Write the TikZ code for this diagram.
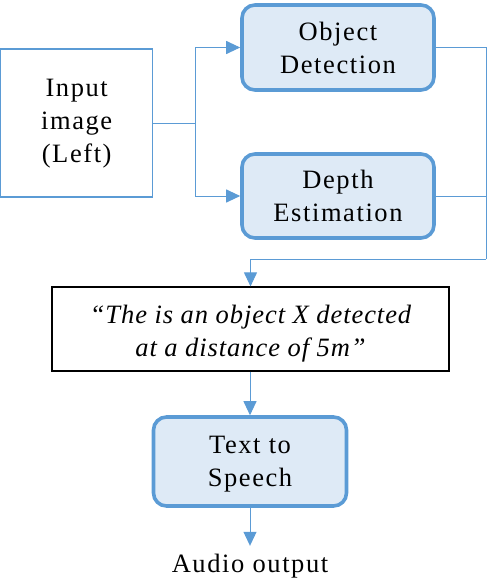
\documentclass[tikz,border=0pt]{standalone}
\usepackage{fontspec}
\setmainfont{Liberation Serif}[LetterSpace=6, ItalicFeatures={LetterSpace=3.5}]
\usetikzlibrary{arrows.meta}
\definecolor{bl}{HTML}{5B9BD5}
\definecolor{lb}{HTML}{DEEAF6}
\tikzset{
  x=1pt,y=1pt,
  txt/.style={font=\fontsize{26.5}{33}\selectfont, align=center},
  plainbox/.style={txt, draw=bl, line width=1.3pt, inner sep=0pt},
  procbox/.style={txt, draw=bl, fill=lb, line width=3.6pt, rounded corners=13pt, inner sep=0pt},
  quotebox/.style={draw=black, line width=1.2pt, inner sep=0pt, font=\fontsize{26.5}{33}\selectfont\itshape},
  conn/.style={draw=bl, line width=1pt},
  arr/.style={conn, -{Triangle[length=14pt,width=13pt]}},
}
\begin{document}
\begin{tikzpicture}
\useasboundingbox (0,0) rectangle (490,-578);
\node[plainbox, minimum width=152pt, minimum height=148pt] (in) at (76.7,-123) {\parbox[c][148pt][c]{140pt}{\centering\vspace{2pt}Input\\image\\(Left)}};
\node[procbox, minimum width=192pt, minimum height=85pt] (od) at (338,-47.5) {Object\\Detection};
\node[procbox, minimum width=192pt, minimum height=84pt] (de) at (338,-196) {Depth\\Estimation};
\node[quotebox, minimum width=397pt, minimum height=84pt] (tb) at (250.5,-329) {\parbox[c][84pt][c]{390pt}{\centering\vspace{10pt}“The is an object X detected\\at a distance of 5m”}};
\node[procbox, minimum width=193pt, minimum height=89pt] (tts) at (250,-461.5) {\parbox[c][89pt][c]{180pt}{\centering\vspace{5pt}Text to\\Speech}};
\node[txt, anchor=base, inner xsep=0pt, inner ysep=4pt, text height=22pt] (audio) at (250,-572) {Audio output};
\coordinate (split) at (195,-123);
\coordinate (r) at (486,-259);
\draw[conn] (in.east) -- (split);
\draw[arr] (split) |- (od.west);
\draw[arr] (split) |- (de.west);
\draw[conn] (od.east) -| (r);
\draw[conn] (de.east) -| (r);
\draw[arr] (r) -| (tb.north);
\draw[arr] (tb.south -| tts.north) -- (tts.north);
\draw[arr] (tts.south) -- (audio.north);
\end{tikzpicture}
\end{document}
